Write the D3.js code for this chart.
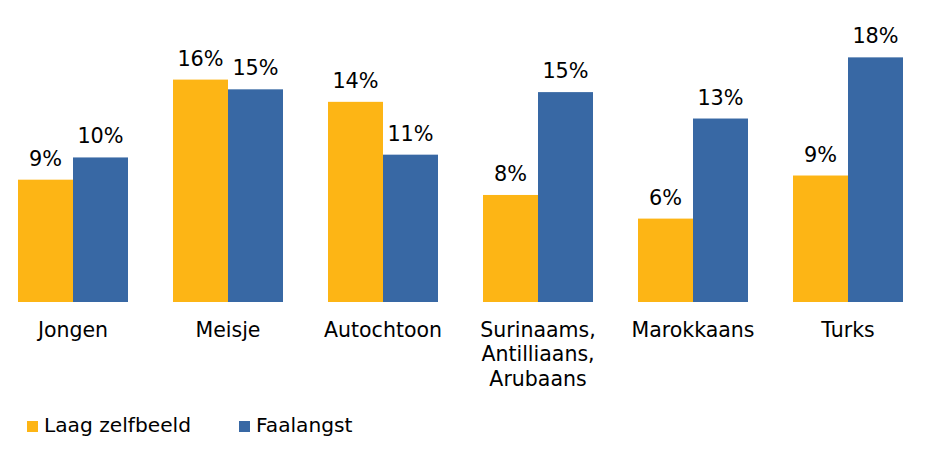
<!DOCTYPE html>
<html>
<head>
<meta charset="utf-8">
<script src="https://cdn.jsdelivr.net/npm/d3@7"></script>
<style>
  html, body { margin: 0; padding: 0; background: #fff; }
  svg text { font-family: "DejaVu Sans", Verdana, sans-serif; fill: #000; }
</style>
</head>
<body>
<svg id="chart" width="948" height="456"></svg>
<script>
const categories = ["Jongen", "Meisje", "Autochtoon", "Surinaams, Antilliaans, Arubaans", "Marokkaans", "Turks"];
const categoryLines = [["Jongen"], ["Meisje"], ["Autochtoon"], ["Surinaams,", "Antilliaans,", "Arubaans"], ["Marokkaans"], ["Turks"]];
const seriesNames = ["Laag zelfbeeld", "Faalangst"];
const laagZelfbeeld = [8.8, 16.0, 14.4, 7.7, 6.0, 9.1];
const faalangst = [10.4, 15.3, 10.6, 15.1, 13.2, 17.6];
const colors = ["#FDB515", "#3868A4"];

const seriesValues = [laagZelfbeeld, faalangst];
const svg = d3.select("#chart");

const x = d3.scaleBand()
  .domain(categories)
  .range([-4.5, 925.5])
  .paddingInner(45 / 155)
  .paddingOuter(22.5 / 155);

const xs = d3.scaleBand()
  .domain(seriesNames)
  .range([0, x.bandwidth()])
  .padding(0);

const y = d3.scaleLinear().domain([0, 20]).range([302, 24]);

const groups = svg.selectAll("g.cat")
  .data(categories)
  .join("g")
  .attr("class", "cat")
  .attr("transform", d => `translate(${x(d)},0)`);

seriesNames.forEach((s, si) => {
  groups.append("rect")
    .attr("x", xs(s))
    .attr("width", xs.bandwidth())
    .attr("y", (d, i) => y(seriesValues[si][i]))
    .attr("height", (d, i) => y(0) - y(seriesValues[si][i]))
    .attr("fill", colors[si]);

  groups.append("text")
    .attr("x", xs(s) + xs.bandwidth() / 2)
    .attr("y", (d, i) => y(seriesValues[si][i]) - 14)
    .attr("text-anchor", "middle")
    .style("font-size", "20.8px")
    .text((d, i) => Math.round(seriesValues[si][i]) + "%");
});

// category labels
groups.each(function(d, i) {
  const t = d3.select(this).append("text")
    .attr("text-anchor", "middle")
    .style("font-size", "20.5px");
  categoryLines[i].forEach((line, li) => {
    t.append("tspan")
      .attr("x", x.bandwidth() / 2)
      .attr("y", 337 + li * 24.3)
      .text(line);
  });
});

// legend
const legendX = [27, 239];
const legend = svg.selectAll("g.legend")
  .data(seriesNames)
  .join("g")
  .attr("class", "legend")
  .attr("transform", (d, i) => `translate(${legendX[i]},0)`);
legend.append("rect")
  .attr("x", 0).attr("y", 421)
  .attr("width", 11).attr("height", 11)
  .attr("fill", (d, i) => colors[i]);
legend.append("text")
  .attr("x", 17).attr("y", 432)
  .style("font-size", "20.2px")
  .text(d => d);
</script>
</body>
</html>
